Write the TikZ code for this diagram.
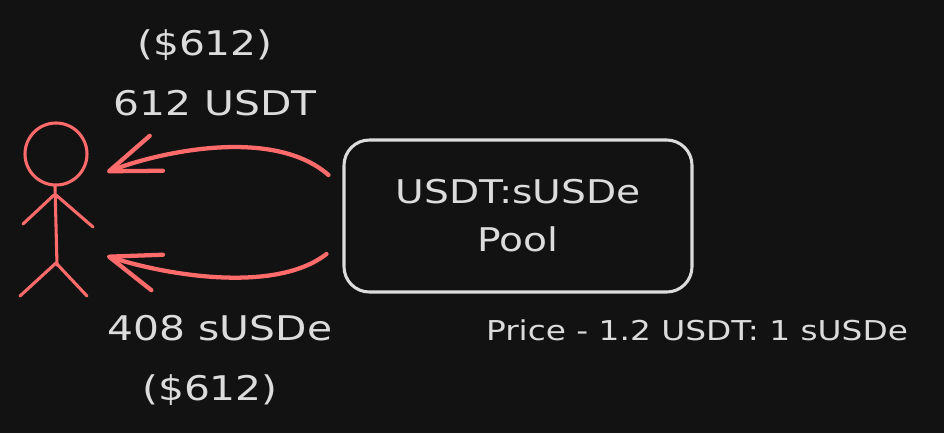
\documentclass[tikz,border=0pt]{standalone}
\usepackage{fontspec}
\setmainfont{DejaVu Sans}[FakeStretch=1.2]
\usetikzlibrary{arrows.meta}
\tikzset{stick/.style = {draw=mred, line width=2.3pt, line cap=round, line join=round}}
\tikzset{flow/.style = {draw=mred, line width=3.2pt, line cap=round,
                        -{Straight Barb[length=38pt, width=28pt, round]}}}
\tikzset{pool/.style = {draw=mgrey, line width=2.3pt, rounded corners=19pt,
                        minimum width=261pt, minimum height=114pt, align=center,
                        text=mgrey, font=\fontsize{24.5}{36}\selectfont}}
\tikzset{amount/.style = {text=mgrey, inner sep=0pt, anchor=base,
                          font=\fontsize{25.5}{30}\selectfont}}
\tikzset{note/.style = {text=mgrey, inner sep=0pt, anchor=base,
                        font=\fontsize{20.5}{24}\selectfont}}
\definecolor{mred}{HTML}{FF6B6B}
\definecolor{mgrey}{HTML}{DCDCDC}
\definecolor{mbg}{HTML}{121212}

\begin{document}
\begin{tikzpicture}[x=0.75pt, y=-0.75pt]
      \fill [mbg] (0, 0) rectangle (944, 433);

      % the trader
      \draw [stick] (56, 154) circle [radius=23.25pt];
      \draw [stick] (55, 186) -- (57, 265);
      \draw [stick] (54, 195) -- (23, 224);
      \draw [stick] (56, 195) -- (93, 227);
      \draw [stick] (56, 263) -- (20, 296);
      \draw [stick] (56, 263) -- (87, 296);

      \node [pool] (pool) at (518, 216) {USDT:sUSDe\\Pool};

      \node [amount] (usdtval) at (205, 55) {(\$612)};
      \node [amount] (usdt) at (215, 115) {612 USDT};
      \node [amount] (susde) at (220, 340) {408 sUSDe};
      \node [amount] (susdeval) at (210, 400) {(\$612)};
      \node [note] (price) at (697, 340) {Price - 1.2 USDT: 1 sUSDe};

      \coordinate (outA) at ([xshift=-10.5pt, yshift=30.75pt]pool.west);
      \coordinate (outB) at ([xshift=-12pt, yshift=-28.5pt]pool.west);
      \coordinate (gotA) at (107, 172);
      \coordinate (gotB) at (107, 256);

      \draw [flow] (outA) .. controls (275, 128) and (165, 150) .. (gotA);
      \draw [flow] (outB) .. controls (275, 294) and (165, 275) .. (gotB);
    \end{tikzpicture}
\end{document}
